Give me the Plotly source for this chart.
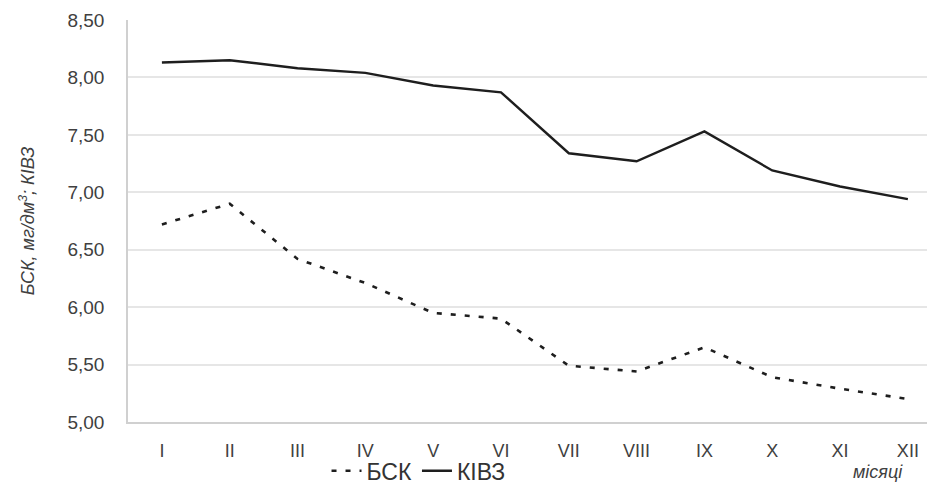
import plotly.graph_objects as go

months = ["I", "II", "III", "IV", "V", "VI", "VII", "VIII", "IX", "X", "XI", "XII"]
kivz = [8.13, 8.15, 8.08, 8.04, 7.93, 7.87, 7.34, 7.27, 7.53, 7.19, 7.05, 6.94]
bsk = [6.72, 6.90, 6.42, 6.21, 5.95, 5.90, 5.49, 5.44, 5.65, 5.39, 5.29, 5.20]
y_ticks = [5.0, 5.5, 6.0, 6.5, 7.0, 7.5, 8.0, 8.5]

xpos = list(range(len(months)))
font = "Liberation Sans, Arial, sans-serif"

fig = go.Figure()
fig.add_trace(go.Scatter(x=xpos, y=bsk, mode="lines", name="БСК",
                         line=dict(color="#1e1e1e", width=2.6, dash="5px,9px")))
fig.add_trace(go.Scatter(x=xpos, y=kivz, mode="lines", name="КІВЗ",
                         line=dict(color="#1e1e1e", width=2.4)))

fig.update_layout(
    width=927, height=478,
    margin=dict(l=120, r=0, t=12, b=64, autoexpand=False),
    paper_bgcolor="white", plot_bgcolor="white",
    separators=", ",
    font=dict(family=font, color="#404040", size=18),
    showlegend=True,
    legend=dict(orientation="h", x=0.36, xanchor="center", y=-0.068, yanchor="top",
                font=dict(size=23, color="#333333"), bgcolor="rgba(0,0,0,0)",
                itemwidth=30, tracegroupgap=0),
    xaxis=dict(range=[-0.5, 11.4], tickmode="array", tickvals=xpos, ticktext=months,
               automargin=False,
               showgrid=False, zeroline=False, showline=True, linecolor="#d0d0d0",
               linewidth=1.5, ticks="", ticklabelstandoff=12,
               tickfont=dict(size=18, color="#404040")),
    yaxis=dict(range=[5.0, 8.5], tickmode="array", tickvals=y_ticks, tickformat=".2f",
               automargin=False,
               showgrid=True, gridcolor="#e6e6e6", gridwidth=1.5, zeroline=False,
               showline=True, linecolor="#d0d0d0", linewidth=1.5, ticks="",
               ticklabelstandoff=18, tickfont=dict(size=19, color="#404040"),
               title=dict(text="<i>БСК, мг/дм<sup>3</sup>; КІВЗ</i>", standoff=28,
                          font=dict(size=18, color="#404040"))),
    annotations=[dict(text="<i>місяці</i>", xref="paper", yref="paper",
                      x=0.929, y=-0.124, xanchor="center", yanchor="middle",
                      showarrow=False, font=dict(size=18, color="#404040"))],
)

fig.write_html("out.html")
